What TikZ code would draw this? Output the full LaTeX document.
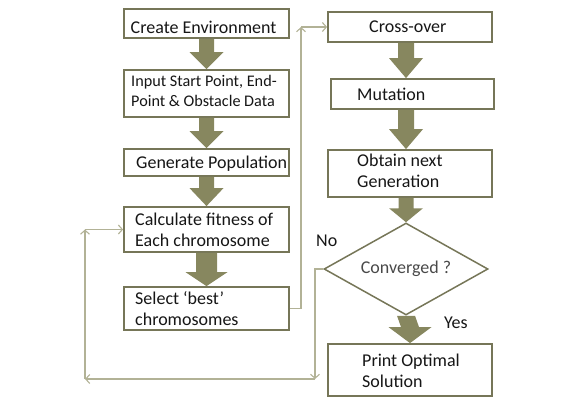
\documentclass[tikz,border=0pt]{standalone}
\usepackage{fontspec}
\setmainfont{Carlito}
\usetikzlibrary{shapes.geometric,arrows.meta,calc}
\definecolor{boxline}{RGB}{118,118,88}
\definecolor{afill}{RGB}{135,135,95}
\definecolor{fbline}{RGB}{178,178,150}
\definecolor{txt}{RGB}{22,22,22}
\newcommand\blockarr[5]{%
  \fill[afill] ($#1+(-#3,0)$) -- ($#1+(#3,0)$) -- ($#2+(#3,-#5)$) -- ($#2+(#4,-#5)$) -- #2 -- ($#2+(-#4,-#5)$) -- ($#2+(-#3,-#5)$) -- cycle;}
\begin{document}
\begin{tikzpicture}[x=1pt,y=-1pt,
  box/.style={draw=boxline, line width=1.8pt, fill=white, inner sep=0pt},
  lbl/.style={anchor=base west, inner sep=0pt, align=left, text=txt, font=\fontsize{18}{21}\selectfont},
  fb/.style={draw=fbline, line width=1.1pt, -{Straight Barb[length=4pt,width=9pt]}}]
\useasboundingbox (0,0) rectangle (569,410);
% left column boxes
\node[box, minimum width=165pt, minimum height=29pt] (b1) at (206.5,23.5) {};
\node[box, minimum width=165pt, minimum height=47pt] (b2) at (206.5,93.5) {};
\node[box, minimum width=165pt, minimum height=27pt] (b3) at (206.5,162.5) {};
\node[box, minimum width=165pt, minimum height=45pt] (b4) at (206.5,229.5) {};
\node[box, minimum width=165pt, minimum height=43pt] (b5) at (206.5,308.5) {};
% right column boxes
\node[box, minimum width=164pt, minimum height=30pt] (r1) at (410,27) {};
\node[box, minimum width=163pt, minimum height=30pt] (r2) at (412.5,94) {};
\node[box, minimum width=164pt, minimum height=47pt] (r3) at (410,173.5) {};
\node[draw=boxline, line width=1.5pt, shape=diamond, shape aspect=1.78, minimum width=164pt, minimum height=92pt, inner sep=0pt, text=txt!78, font=\fontsize{18}{21}\selectfont] (dia) at (406,269) {Converged ?};
\node[box, minimum width=164pt, minimum height=52pt] (r4) at (410,370) {};
% texts (base west = baseline of last line)
\node[lbl] (t1) at (130.5,33.3) {Create Environment};
\node[lbl, font=\fontsize{16.2}{20}\selectfont] (t2) at (131,106) {Input Start Point, End-\\Point \& Obstacle Data};
\node[lbl] (t3) at (136,168) {Generate Population};
\node[lbl] (t4) at (135,246.5) {Calculate fitness of\\Each chromosome};
\node[lbl] (t5) at (135,325) {Select ‘best’\\chromosomes};
\node[lbl] (t6) at (369,32) {Cross-over};
\node[lbl] (t7) at (357,100) {Mutation};
\node[lbl] (t8) at (357,187) {Obtain next\\Generation};
\node[lbl] (t9) at (362,387.5) {Print Optimal\\Solution};
\node[lbl] (no) at (316,246) {No};
\node[lbl] (yes) at (444,328) {Yes};
% block arrows
\coordinate (ax) at (406,0);
\blockarr{(b1.south)}{(b2.north)}{7.5}{17}{17}
\blockarr{(b2.south)}{(b3.north)}{7.5}{17}{17}
\blockarr{(b3.south)}{(b4.north)}{7.5}{17}{18}
\blockarr{(b4.south)}{(b5.north)}{10.5}{21}{14}
\coordinate (a1) at (r1.south -| ax);
\coordinate (a2) at (r2.north -| ax);
\coordinate (a3) at (r2.south -| ax);
\coordinate (a4) at (r3.north -| ax);
\coordinate (a5) at (r3.south -| ax);
\blockarr{(a1)}{(a2)}{8}{17}{20}
\blockarr{(a3)}{(a4)}{8}{17}{20}
\blockarr{(a5)}{(dia.north)}{7.5}{17}{14}
\blockarr{(dia.south)}{(r4.north)}{9}{21.5}{16}
% feedback connectors
\coordinate (fx) at (301,0);
\draw[fb] (b5.east) -- (b5.east -| fx) -- (fx |- r1.west);
\draw[fb] (fx |- r1.west) -- (r1.west);
\coordinate (nx) at (315,379);
\coordinate (lx) at (85,379);
\draw[fb] (dia.west) -- (dia.west -| nx) -- (nx);
\draw[fb] (nx) -- (lx);
\draw[fb] (lx) -- (lx |- b4.west);
\draw[fb] (lx |- b4.west) -- (b4.west);
\end{tikzpicture}
\end{document}
